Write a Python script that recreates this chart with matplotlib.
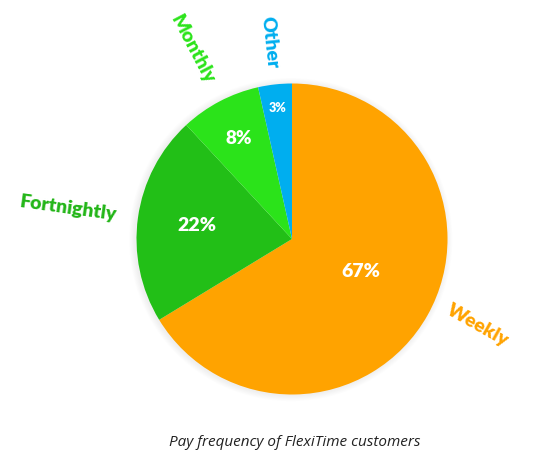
import numpy as np
import matplotlib
matplotlib.use('Agg')
import matplotlib.pyplot as plt
from matplotlib.patches import Circle

# pay frequency shares (clockwise from 12 o'clock)
labels = ['Weekly', 'Fortnightly', 'Monthly', 'Other']
shares = [66.3, 21.8, 8.4, 3.5]
pct_text = ['67%', '22%', '8%', '3%']

colors = ['#FFA300', '#22BF17', '#2BE31A', '#00AEEF']
label_colors = ['#FFA300', '#22B517', '#2BE31A', '#00AEEF']
label_r = [1.32, 1.45, 1.38, 1.27]
pct_r = [0.49, 0.62, 0.73, 0.85]
pct_size = [14, 14, 13.5, 9]
shift = [4.5, 0, 0, 0]  # degrees nudge for label placement

plt.rcParams['font.family'] = ['Lato', 'DejaVu Sans']

W, H = 539, 468
fig = plt.figure(figsize=(W / 100, H / 100), dpi=100)
cx, cy, R = 292, 239, 155.5
L = 1.5
span = 2 * L * R
ax = fig.add_axes([(cx - span / 2) / W, 1 - (cy + span / 2) / H, span / W, span / H])

wedges, _ = ax.pie(shares, colors=colors, startangle=90, counterclock=False,
                   radius=1, wedgeprops=dict(linewidth=0))
ax.set_xlim(-L, L)
ax.set_ylim(-L, L)
ax.set_aspect('equal')
ax.axis('off')

# soft shadow
for i in range(8):
    ax.add_patch(Circle((-0.008, -0.004), 1 + 0.005 * (i + 1), color='black',
                        alpha=0.008, lw=0, zorder=0))
for w in wedges:
    w.set_zorder(2)

for i, w in enumerate(wedges):
    ang = (w.theta1 + w.theta2) / 2
    a = np.deg2rad(ang + shift[i])
    x, y = np.cos(a), np.sin(a)
    ax.text(pct_r[i] * x, pct_r[i] * y, pct_text[i], color='white',
            fontsize=pct_size[i], fontweight='heavy', ha='center', va='center', zorder=3)
    rot = ang if -90 <= ang <= 90 else ang - 180
    if ang > 270:
        rot = ang - 360
    ax.text(label_r[i] * x, label_r[i] * y, labels[i], color=label_colors[i],
            fontsize=14, fontweight='heavy', ha='center', va='center',
            rotation=rot, rotation_mode='anchor', zorder=3)

fig.text(295 / W, 1 - 442 / H, 'Pay frequency of FlexiTime customers',
         fontsize=11, style='italic', family=['Open Sans', 'DejaVu Sans'],
         color='#222222', ha='center', va='center')

fig.savefig('out.png', dpi=100)
